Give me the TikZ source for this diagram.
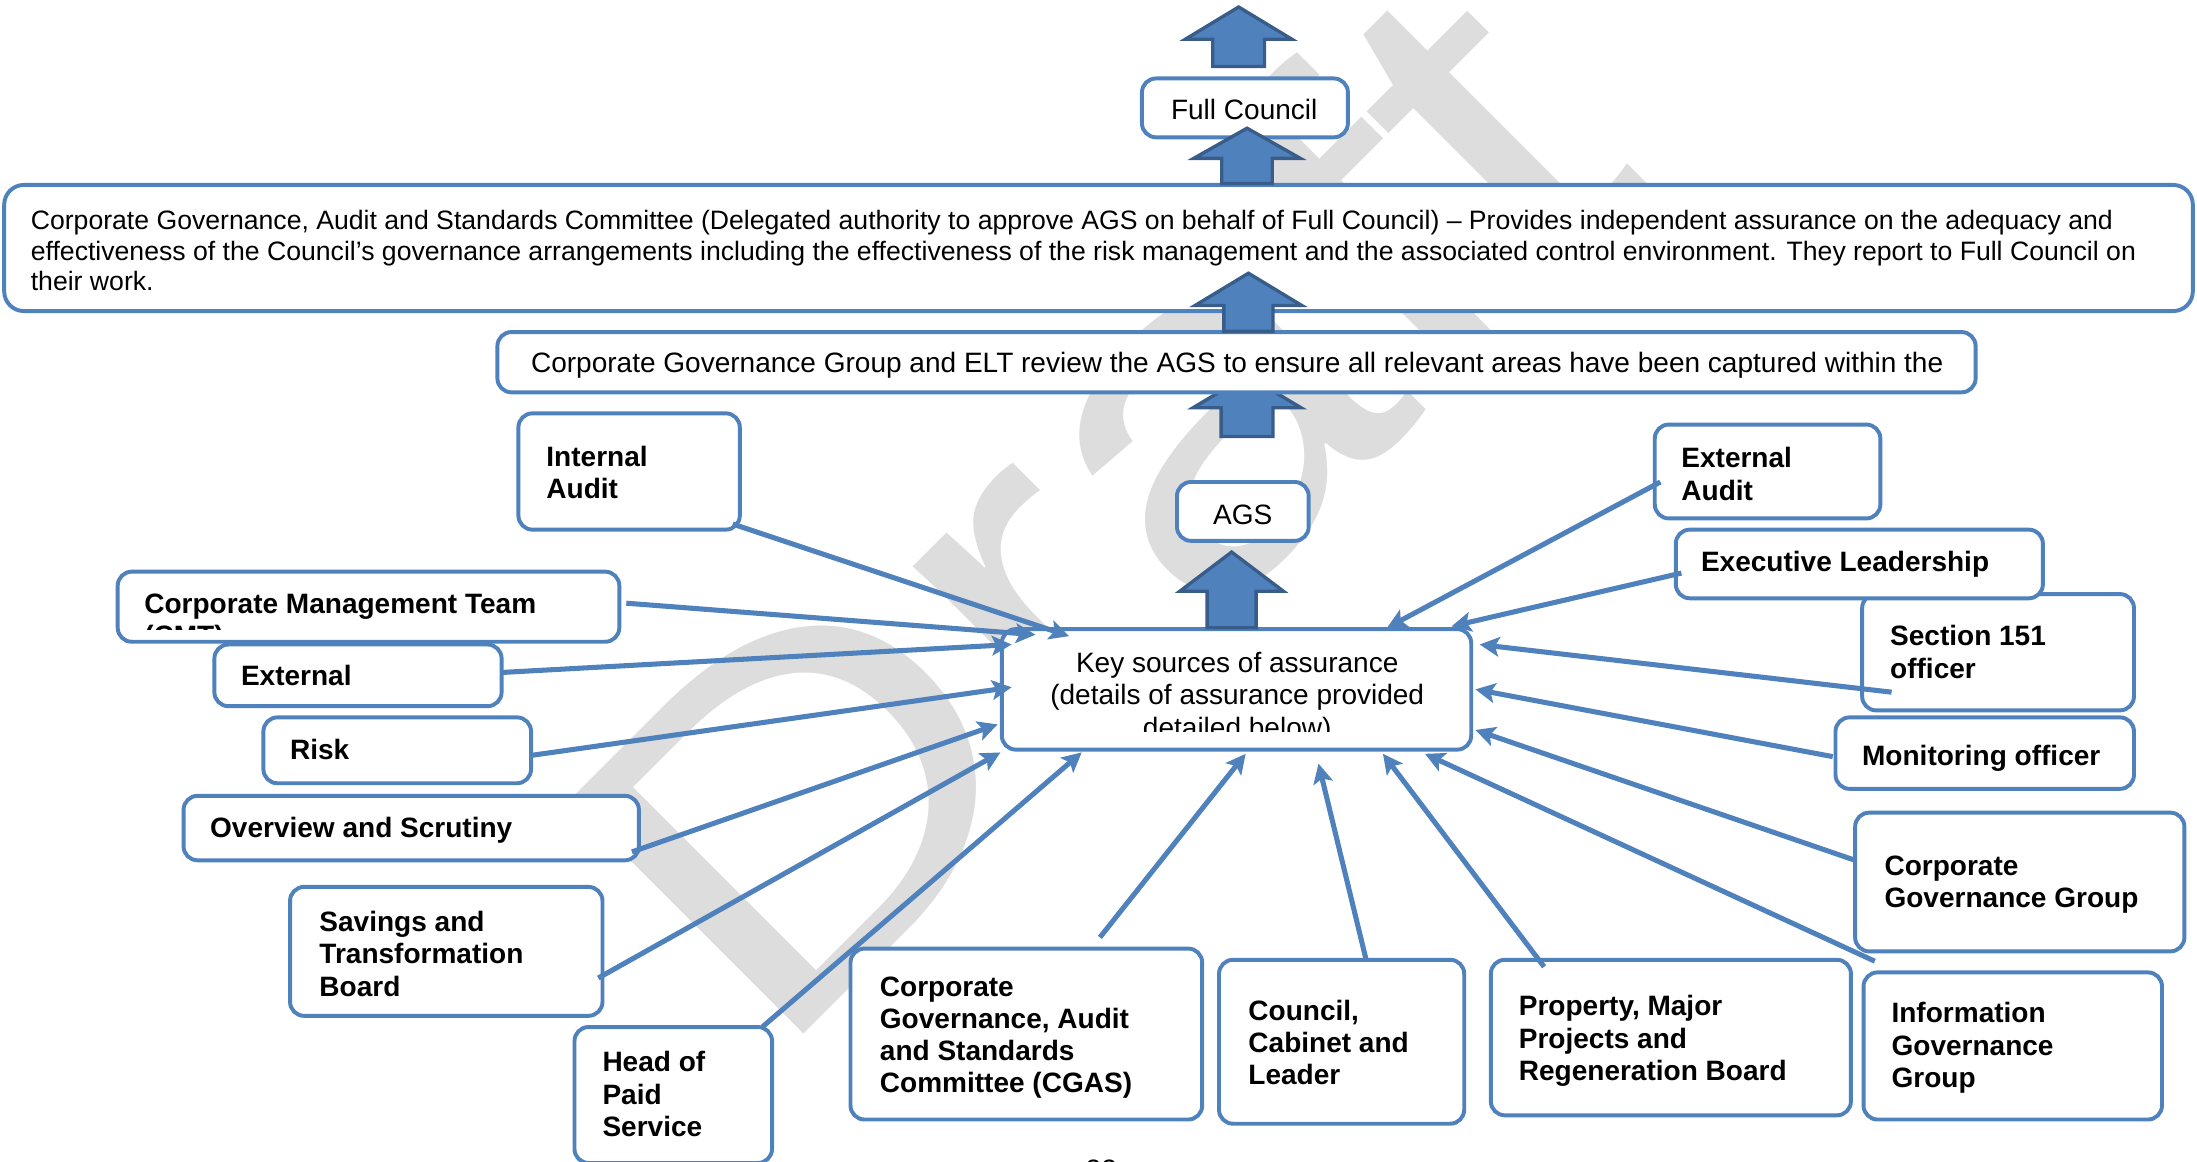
\documentclass[tikz,border=0pt]{standalone}
\usepackage{fontspec}
\usepackage{graphicx}
\setmainfont{Liberation Sans}
\usetikzlibrary{arrows.meta,calc}
\definecolor{bxblue}{HTML}{4F81BD}
\definecolor{arrdark}{HTML}{385D8A}
\definecolor{wmgray}{HTML}{DDDDDD}
\newcommand\mlinesl[1]{\vtop{\halign{##\hfil\cr#1\crcr}}}
\newcommand\mlinesc[1]{\vtop{\halign{\hfil##\hfil\cr#1\crcr}}}
\newcommand\uparr[6]{\draw[blockarrow] (#1-#6,#4) -- (#1-#6,#3) -- (#1-#5,#3) -- (#1,#2) -- (#1+#5,#3) -- (#1+#6,#3) -- (#1+#6,#4) -- cycle;}
\begin{document}
\begin{tikzpicture}[x=1pt,y=-1pt,
  box/.style={draw=bxblue, line width=2.8pt, fill=white, rounded corners=10pt, anchor=north west, inner sep=0pt, outer sep=0pt},
  lbl/.style={anchor=base west, inner sep=0pt, outer sep=0pt, font=\fontsize{20}{23}\selectfont\bfseries},
  txt/.style={anchor=base west, inner sep=0pt, outer sep=0pt, font=\fontsize{20}{23}\selectfont},
  conn/.style={draw=bxblue, line width=3.6pt, -{Stealth[length=14pt,width=14pt,inset=3pt]}},
  blockarrow/.style={fill=bxblue, draw=arrdark, line width=2.4pt, line join=miter},
  wm/.style={text=wmgray, inner sep=0pt, outer sep=0pt, font=\fontsize{343}{343}\selectfont}
]
\useasboundingbox (0,0) rectangle (1568,829);
\clip (0,0) rectangle (1568,829);
\fill[white] (0,0) rectangle (1568,829);

% watermark
\node[wm, rotate=45, anchor=base west] (wmark) at (550,762) {\scalebox{1.2}[1]{Draft}};

% arrow hidden behind ELT box
\uparr{890}{268}{291}{311.5}{38.5}{18.5}

% boxes
\node[box, minimum width=147pt, minimum height=42pt] (fc) at (815,56) {};
\node[box, minimum width=1562pt, minimum height=90pt, rounded corners=14pt] (cgasd) at (3,132) {};
\node[box, minimum width=1055pt, minimum height=43pt] (elt) at (355,237) {};
\node[box, minimum width=158pt, minimum height=83pt] (ia) at (370,295) {};
\node[box, minimum width=94pt, minimum height=42pt] (ags) at (840,344) {};
\node[box, minimum width=335pt, minimum height=86pt] (key) at (715,449) {};
\node[box, minimum width=358pt, minimum height=50pt] (cmt) at (84,408) {};
\node[box, minimum width=205pt, minimum height=44pt] (ext) at (153,460) {};
\node[box, minimum width=191pt, minimum height=47pt] (risk) at (188,512) {};
\node[box, minimum width=325pt, minimum height=46pt] (ovs) at (131,568) {};
\node[box, minimum width=223pt, minimum height=92pt] (sav) at (207,633) {};
\node[box, minimum width=141pt, minimum height=97pt] (hps) at (410,733) {};
\node[box, minimum width=251pt, minimum height=122pt] (cgasb) at (607,677) {};
\node[box, minimum width=175pt, minimum height=117pt] (ccl) at (870,685) {};
\node[box, minimum width=257pt, minimum height=111pt] (prop) at (1064,685) {};
\node[box, minimum width=213pt, minimum height=105pt] (igg) at (1330,694) {};
\node[box, minimum width=235pt, minimum height=99pt] (cgg) at (1324,580) {};
\node[box, minimum width=213pt, minimum height=51pt] (mon) at (1310,512) {};
\node[box, minimum width=194pt, minimum height=83pt] (s151) at (1329,424) {};
\node[box, minimum width=262pt, minimum height=49pt] (exl) at (1196,378) {};
\node[box, minimum width=161pt, minimum height=67pt] (exa) at (1181,303) {};

% block arrows
\uparr{884}{5}{28}{47.5}{38}{18.5}
\uparr{890}{91.5}{113}{131}{38}{18}
\uparr{891}{195}{218}{236.5}{38}{17.5}
\uparr{879}{394}{422}{448}{37}{17.5}

% texts
\node[txt, anchor=base] (fc-t) at (888,85.5) {Full Council};
\node[txt, font=\fontsize{19}{21.7}\selectfont] (cgasd-t) at (22,164) {\mlinesl{Corporate Governance, Audit and Standards Committee (Delegated authority to approve AGS on behalf of Full Council) -- Provides independent assurance on the adequacy and\cr effectiveness of the Council’s governance arrangements including the effectiveness of the risk management and the associated control environment. They report to Full Council on\cr their work.}};
\node[txt] (elt-t) at (379,266) {Corporate Governance Group and ELT review the AGS to ensure all relevant areas have been captured within the};
\node[txt, anchor=base] (ags-t) at (887,374) {AGS};
\begin{scope}
\clip (715,449) rectangle (1050,522);
\node[txt, anchor=base] (key-t) at (883,480) {\mlinesc{Key sources of assurance\cr (details of assurance provided\cr detailed below)}};
\end{scope}
\begin{scope}
\clip (84,408) rectangle (442,449);
\node[lbl] (cmt-t) at (103,438) {\mlinesl{Corporate Management Team\cr (CMT)}};
\end{scope}
\node[lbl] (ia-t) at (390,333) {\mlinesl{Internal\cr Audit}};
\node[lbl] (ext-t) at (172,489) {External};
\node[lbl] (risk-t) at (207,542) {Risk};
\node[lbl] (ovs-t) at (150,598) {Overview and Scrutiny};
\node[lbl] (sav-t) at (228,665) {\mlinesl{Savings and\cr Transformation\cr Board}};
\node[lbl] (hps-t) at (430,765) {\mlinesl{Head of\cr Paid\cr Service}};
\node[lbl] (cgasb-t) at (628,711) {\mlinesl{Corporate\cr Governance, Audit\cr and Standards\cr Committee (CGAS)}};
\node[lbl] (ccl-t) at (891,728) {\mlinesl{Council,\cr Cabinet and\cr Leader}};
\node[lbl] (prop-t) at (1084,725) {\mlinesl{Property, Major\cr Projects and\cr Regeneration Board}};
\node[lbl] (igg-t) at (1350,730) {\mlinesl{Information\cr Governance\cr Group}};
\node[lbl] (cgg-t) at (1345,625) {\mlinesl{Corporate\cr Governance Group}};
\node[lbl] (mon-t) at (1329,546) {Monitoring officer};
\node[lbl] (s151-t) at (1349,461) {\mlinesl{Section 151\cr officer}};
\node[lbl] (exl-t) at (1214,408) {Executive Leadership};
\node[lbl] (exa-t) at (1200,334) {\mlinesl{External\cr Audit}};
\node[txt, anchor=base] (pg) at (786,842) {22};

% connector end points
\coordinate (ia-s) at (523,374);   \coordinate (ia-e) at (763,454);
\coordinate (cmt-s) at (447,430.5); \coordinate (cmt-e) at (739,453);
\coordinate (ext-s) at (357,480);  \coordinate (ext-e) at (722,460);
\coordinate (risk-s) at (380,539); \coordinate (risk-e) at (722,490.5);
\coordinate (ovs-s) at (451,608);  \coordinate (ovs-e) at (712,517);
\coordinate (sav-s) at (427,698);  \coordinate (sav-e) at (714,537);
\coordinate (hps-s) at (544,733);  \coordinate (hps-e) at (772,537);
\coordinate (cgasb-s) at (785,669); \coordinate (cgasb-e) at (889,538);
\coordinate (ccl-s) at (975,685);  \coordinate (ccl-e) at (941,545);
\coordinate (prop-s) at (1102,690); \coordinate (prop-e) at (987,538);
\coordinate (igg-s) at (1338,686); \coordinate (igg-e) at (1017,538);
\coordinate (cgg-s) at (1324,614); \coordinate (cgg-e) at (1053,521);
\coordinate (mon-s) at (1308,540); \coordinate (mon-e) at (1053,492);
\coordinate (s151-s) at (1350,494); \coordinate (s151-e) at (1056,460);
\coordinate (exl-s) at (1200,409); \coordinate (exl-e) at (1036,447);
\coordinate (exa-s) at (1185,344); \coordinate (exa-e) at (990,448);

\foreach \n in {ia,cmt,ext,risk,ovs,sav,hps,cgasb,ccl,prop,igg,cgg,mon,s151,exl,exa}
  \draw[conn] (\n-s) -- (\n-e);
\end{tikzpicture}
\end{document}
